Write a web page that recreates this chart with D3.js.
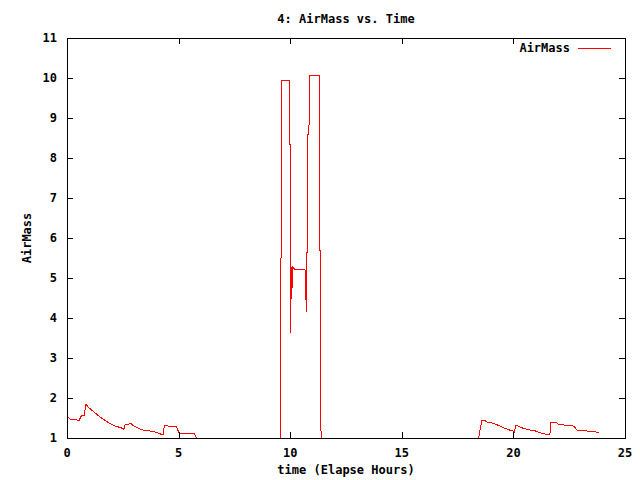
<!DOCTYPE html>
<html>
<head>
<meta charset="utf-8">
<script src="https://cdn.jsdelivr.net/npm/d3@7"></script>
<style>
  body { margin: 0; background: #fff; }
  text { font-family: "DejaVu Sans Mono", monospace; font-size: 12px; font-weight: bold; fill: #000; }
</style>
</head>
<body>
<svg id="chart"></svg>
<script>
const width = 640;
const height = 480;
const margin = { top: 38, right: 15, bottom: 42, left: 67 };

const title = "4: AirMass vs. Time";
const xLabel = "time (Elapse Hours)";
const yLabel = "AirMass";
const seriesName = "AirMass";

const xTicks = [0, 5, 10, 15, 20, 25];
const yTicks = [1, 2, 3, 4, 5, 6, 7, 8, 9, 10, 11];

// elapsed hours and airmass
const hours = [
  0, 0.15, 0.37, 0.45, 0.55, 0.64, 0.70, 0.76, 0.85, 0.97, 1.27, 1.57, 1.87, 2.16, 2.39, 2.49, 2.55,
  2.61, 2.76, 2.85, 2.99, 3.20, 3.42, 3.64, 3.87, 4.09, 4.24, 4.32, 4.36, 4.47, 4.66, 4.91, 5.02,
  5.70, 5.81, 9.55, 9.56, 9.60, 9.61, 9.96, 9.97, 10.00, 10.03, 10.04, 10.06, 10.12, 10.20, 10.68,
  10.69, 10.70, 10.72, 10.74, 10.76, 10.78, 10.84, 10.86, 11.30, 11.31, 11.35, 11.37, 11.40, 11.43,
  18.44, 18.48, 18.58, 18.73, 18.88, 19.03, 19.18, 19.40, 19.62, 19.82, 19.97, 20.03, 20.07, 20.12,
  20.18, 20.30, 20.52, 20.74, 20.97, 21.19, 21.42, 21.61, 21.64, 21.68, 21.72, 21.91, 22.01, 22.21,
  22.31, 22.54, 22.68, 22.76, 22.83, 23.10, 23.36, 23.66, 23.73, 23.84
];
const airmass = [
  1.55, 1.47, 1.47, 1.45, 1.45, 1.55, 1.57, 1.55, 1.84, 1.76, 1.62, 1.49, 1.38, 1.30, 1.26, 1.24, 1.22,
  1.34, 1.34, 1.37, 1.30, 1.24, 1.20, 1.18, 1.16, 1.12, 1.09, 1.09, 1.32, 1.31, 1.28, 1.28, 1.12,
  1.12, 1.00, 1.00, 5.48, 5.50, 9.94, 9.94, 8.35, 8.35, 3.62, 5.27, 4.47, 5.27, 5.22, 5.20,
  4.45, 4.90, 4.16, 5.64, 5.64, 8.60, 8.60, 10.07, 10.07, 5.68, 5.68, 1.22, 1.07, 1.00,
  1.00, 1.12, 1.43, 1.43, 1.38, 1.38, 1.35, 1.30, 1.24, 1.20, 1.18, 1.13, 1.22, 1.32,
  1.31, 1.27, 1.23, 1.20, 1.18, 1.13, 1.10, 1.08, 1.13, 1.38, 1.40, 1.39, 1.35, 1.33,
  1.32, 1.31, 1.30, 1.26, 1.20, 1.19, 1.17, 1.17, 1.14, 1.13
];

const data = hours.map((h, i) => ({ t: h, v: airmass[i] }));

const svg = d3.select("#chart")
    .attr("width", width)
    .attr("height", height);

const x = d3.scaleLinear().domain([0, 25]).range([margin.left, width - margin.right]);
const y = d3.scaleLinear().domain([1, 11]).range([height - margin.bottom, margin.top]);

const tickLen = 6;

// data line, drawn under the border like gnuplot
const line = d3.line()
    .x(d => x(d.t))
    .y(d => y(d.v));

svg.append("path")
    .datum(data)
    .attr("d", line)
    .attr("fill", "none")
    .attr("stroke", "#ff0000")
    .attr("stroke-width", 1)
    .attr("shape-rendering", "crispEdges");

// ticks on all four sides, pointing inward
const ticks = svg.append("g")
    .attr("stroke", "#000")
    .attr("stroke-width", 1)
    .attr("shape-rendering", "crispEdges");

xTicks.forEach(t => {
    const px = Math.round(x(t)) + 0.5;
    ticks.append("line").attr("x1", px).attr("x2", px)
        .attr("y1", y(1)).attr("y2", y(1) - tickLen);
    ticks.append("line").attr("x1", px).attr("x2", px)
        .attr("y1", y(11)).attr("y2", y(11) + tickLen);
});
yTicks.forEach(v => {
    const py = Math.round(y(v)) + 0.5;
    ticks.append("line").attr("x1", x(0)).attr("x2", x(0) + tickLen)
        .attr("y1", py).attr("y2", py);
    ticks.append("line").attr("x1", x(25)).attr("x2", x(25) - tickLen)
        .attr("y1", py).attr("y2", py);
});

svg.append("rect")
    .attr("x", x(0) + 0.5)
    .attr("y", y(11) + 0.5)
    .attr("width", x(25) - x(0))
    .attr("height", y(1) - y(11))
    .attr("fill", "none")
    .attr("stroke", "#000")
    .attr("shape-rendering", "crispEdges");

// tick labels
svg.append("g").selectAll("text")
    .data(xTicks)
    .enter().append("text")
    .attr("x", d => x(d))
    .attr("y", y(1) + 19)
    .attr("text-anchor", "middle")
    .text(d => d);

svg.append("g").selectAll("text")
    .data(yTicks)
    .enter().append("text")
    .attr("x", x(0) - 10)
    .attr("y", d => y(d) + 4)
    .attr("text-anchor", "end")
    .text(d => d);

// titles
svg.append("text")
    .attr("x", (x(0) + x(25)) / 2)
    .attr("y", 23)
    .attr("text-anchor", "middle")
    .text(title);

svg.append("text")
    .attr("x", (x(0) + x(25)) / 2)
    .attr("y", 474)
    .attr("text-anchor", "middle")
    .text(xLabel);

svg.append("text")
    .attr("transform", `translate(31, ${(y(1) + y(11)) / 2}) rotate(-90)`)
    .attr("text-anchor", "middle")
    .text(yLabel);

// legend
svg.append("text")
    .attr("x", 570)
    .attr("y", 52)
    .attr("text-anchor", "end")
    .text(seriesName);

svg.append("line")
    .attr("x1", 578).attr("x2", 611)
    .attr("y1", 48.5).attr("y2", 48.5)
    .attr("stroke", "#ff0000")
    .attr("shape-rendering", "crispEdges");
</script>
</body>
</html>
